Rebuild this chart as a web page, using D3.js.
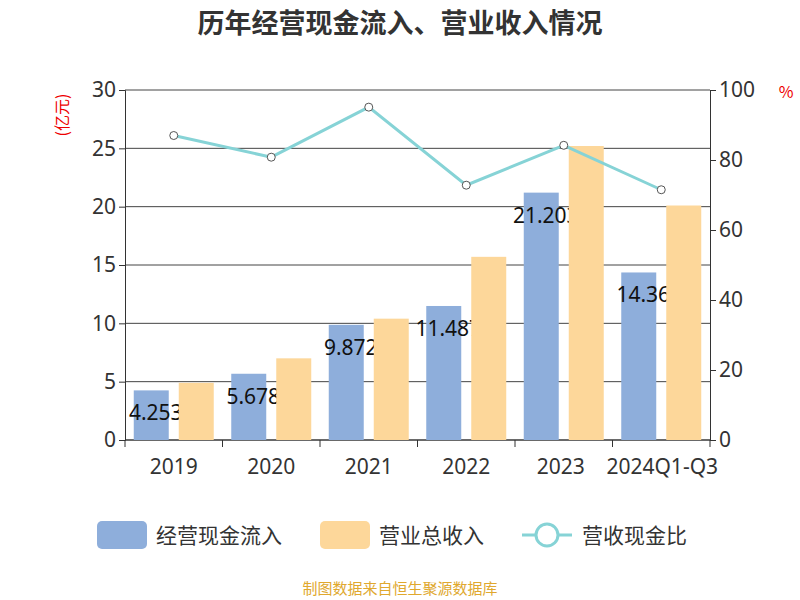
<!DOCTYPE html><html><head><meta charset="utf-8"><script src="https://cdn.jsdelivr.net/npm/d3@7"></script>
<style>body{margin:0;background:#fff}text{font-family:"Noto Sans CJK SC","Noto Sans",sans-serif}</style></head><body>
<svg id="c" width="800" height="600"></svg>
<script>
const categories=["2019","2020","2021","2022","2023","2024Q1-Q3"];
const cashIn=[4.253,5.678,9.872,11.487,21.203,14.36];
const revenue=[4.9,7.0,10.4,15.7,25.2,20.1];
const ratio=[87.0,80.8,95.1,72.8,84.2,71.5];
const leftTicks=[0,5,10,15,20,25,30];
const rightTicks=[0,20,40,60,80,100];
const svg=d3.select("#c");
const L=125,R=710,T=90,B=440;
const x=d3.scaleBand().domain(categories).range([L,R]);
const y=d3.scaleLinear().domain([0,30]).range([B,T]);
const y2=d3.scaleLinear().domain([0,100]).range([B,T]);
svg.append("text").attr("x",400).attr("y",33).attr("text-anchor","middle").attr("font-size",27).attr("font-weight","bold").attr("fill","#333").text("历年经营现金流入、营业收入情况");
svg.selectAll(".g").data(leftTicks).enter().append("line").attr("x1",L).attr("x2",R).attr("y1",d=>y(d)).attr("y2",d=>y(d)).attr("stroke","#444").attr("stroke-width",1);
const ga=svg.append("g").attr("transform",`translate(${L},0)`).call(d3.axisLeft(y).tickValues(leftTicks).tickSize(6));
const gb=svg.append("g").attr("transform",`translate(${R},0)`).call(d3.axisRight(y2).tickValues(rightTicks).tickSize(6));
[ga,gb].forEach(g=>{g.select(".domain").attr("stroke","#333");g.selectAll("line").attr("stroke","#333");g.selectAll("text").attr("font-size",21).attr("fill","#333").style("font-family","Noto Sans");});
const gx=svg.append("g").attr("transform",`translate(0,${B})`);
gx.append("line").attr("x1",L).attr("x2",R).attr("y1",0).attr("y2",0).attr("stroke","#333");
gx.selectAll(".t").data(d3.range(categories.length+1)).enter().append("line").attr("x1",i=>L+i*x.step()).attr("x2",i=>L+i*x.step()).attr("y1",0).attr("y2",7).attr("stroke","#333");
gx.selectAll(".l").data(categories).enter().append("text").attr("x",d=>x(d)+x.bandwidth()/2-(d==="2023"?3:(d.length>4?-1:0))).attr("y",34).attr("text-anchor","middle").attr("font-size",21).attr("fill","#333").style("font-family","Noto Sans").text(d=>d);
svg.append("text").attr("transform","translate(68,115) rotate(-90)").attr("text-anchor","middle").attr("font-size",16).attr("fill","#e00").text("(亿元)");
svg.append("text").attr("x",786).attr("y",98).attr("text-anchor","middle").attr("font-size",16).attr("fill","#e00").text("%");
const bw=35;
const cx=d=>x(d)+x.bandwidth()/2;
svg.selectAll(".b1").data(categories).enter().append("rect").attr("x",d=>cx(d)-bw-5).attr("width",bw).attr("y",(d,i)=>y(cashIn[i])).attr("height",(d,i)=>B-y(cashIn[i])).attr("fill","#8eaedb");
svg.selectAll(".lb").data(categories).enter().append("text").attr("x",d=>cx(d)-18).attr("y",(d,i)=>y(cashIn[i])+30).attr("text-anchor","middle").attr("font-size",21).attr("fill","#111").style("font-family","Noto Sans").text((d,i)=>cashIn[i]);
svg.selectAll(".b2").data(categories).enter().append("rect").attr("x",d=>cx(d)+5).attr("width",bw).attr("y",(d,i)=>y(revenue[i])).attr("height",(d,i)=>B-y(revenue[i])).attr("fill","#fdd79a");
const line=d3.line().x((d,i)=>cx(categories[i])).y(d=>y2(d));
svg.append("path").attr("d",line(ratio)).attr("fill","none").attr("stroke","#86d3d6").attr("stroke-width",3);
svg.selectAll(".pt").data(ratio).enter().append("circle").attr("cx",(d,i)=>cx(categories[i])).attr("cy",d=>y2(d)).attr("r",4).attr("fill","#fff").attr("stroke","#555").attr("stroke-width",1);
const lg=svg.append("g");
lg.append("rect").attr("x",97).attr("y",521).attr("width",50).attr("height",28).attr("rx",5).attr("fill","#8eaedb");
lg.append("text").attr("x",156).attr("y",543).attr("font-size",21).attr("fill","#333").text("经营现金流入");
lg.append("rect").attr("x",320).attr("y",521).attr("width",50).attr("height",28).attr("rx",5).attr("fill","#fdd79a");
lg.append("text").attr("x",379).attr("y",543).attr("font-size",21).attr("fill","#333").text("营业总收入");
lg.append("line").attr("x1",522).attr("x2",572).attr("y1",535).attr("y2",535).attr("stroke","#86d3d6").attr("stroke-width",3);
lg.append("circle").attr("cx",547).attr("cy",535).attr("r",11).attr("fill","#fff").attr("stroke","#86d3d6").attr("stroke-width",3);
lg.append("text").attr("x",582).attr("y",543).attr("font-size",21).attr("fill","#333").text("营收现金比");
svg.append("text").attr("x",400).attr("y",594).attr("text-anchor","middle").attr("font-size",15).attr("fill","#e0a82e").text("制图数据来自恒生聚源数据库");
</script></body></html>
